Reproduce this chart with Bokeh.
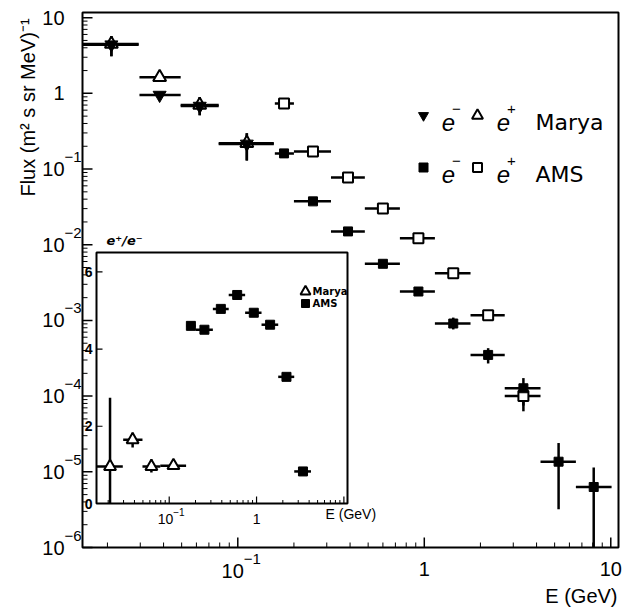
import math
from bokeh.plotting import figure
from bokeh.models import Range1d, LogScale, LinearScale, Label
from bokeh.embed import file_html
from bokeh.resources import INLINE

# ---------------- data ----------------
# Marya (e- filled down-triangle, e+ open up-triangle)
marya_x = [0.021, 0.0381, 0.0625, 0.1118]
marya_xlo = [0.0147, 0.0297, 0.0494, 0.079]
marya_xhi = [0.0294, 0.0494, 0.079, 0.156]
marya_em = [4.4, 0.95, 0.68, 0.215]
marya_em_lo = [3.08, 0.92, 0.512, 0.13]
marya_em_hi = [5.66, 0.98, 0.885, 0.296]
marya_ep = [4.5, 1.63, 0.70, 0.22]
marya_ep_lo = [3.08, 1.58, 0.512, 0.13]
marya_ep_hi = [5.66, 1.68, 0.885, 0.296]

# AMS (e- filled square, e+ open square)
ams_x = [0.177, 0.253, 0.39, 0.6, 0.93, 1.43, 2.2, 3.4, 5.25, 8.1]
ams_xlo = [0.158, 0.2, 0.316, 0.48, 0.74, 1.14, 1.77, 2.7, 4.2, 6.5]
ams_xhi = [0.2, 0.316, 0.48, 0.74, 1.14, 1.77, 2.7, 4.2, 6.5, 10.1]
ams_em = [0.161, 0.0374, 0.0150, 0.0056, 0.00241, 9.1e-4, 3.5e-4, 1.27e-4, 1.36e-5, 6.3e-6]
ams_em_lo = [0.152, 0.0354, 0.0142, 0.0053, 0.00228, 7.6e-4, 2.7e-4, 6.3e-5, 3.2e-6, 1e-7]
ams_em_hi = [0.170, 0.0395, 0.0158, 0.0059, 0.00255, 1.09e-3, 4.3e-4, 1.73e-4, 2.4e-5, 1.14e-5]
ams_ep_x = [0.177, 0.253, 0.39, 0.6, 0.93, 1.43, 2.2, 3.4]
ams_ep_xlo = [0.158, 0.2, 0.316, 0.48, 0.74, 1.14, 1.77, 2.7]
ams_ep_xhi = [0.2, 0.316, 0.48, 0.74, 1.14, 1.77, 2.7, 4.2]
ams_ep = [0.737, 0.171, 0.0775, 0.0302, 0.0122, 0.00419, 0.00117, 1.0e-4]
ams_ep_lo = [0.70, 0.162, 0.0735, 0.0287, 0.0116, 0.00398, 0.00111, 7.5e-5]
ams_ep_hi = [0.775, 0.180, 0.0815, 0.0317, 0.0128, 0.0044, 0.00123, 1.3e-4]

# inset: e+/e- ratio
marya_ratio = [0.96, 1.65, 0.96, 0.98]
marya_ratio_lo = [0.0, 1.45, 0.80, 0.92]
marya_ratio_hi = [2.74, 1.83, 1.14, 1.04]
ams_ratio = [4.6, 4.5, 5.04, 5.4, 4.94, 4.63, 3.28, 0.83]
ams_ratio_lo = [4.52, 4.42, 4.96, 5.32, 4.86, 4.55, 3.18, 0.75]
ams_ratio_hi = [4.68, 4.58, 5.12, 5.48, 5.02, 4.71, 3.38, 0.91]

# tick labels
y_ticks = [10, 1, 0.1, 0.01, 1e-3, 1e-4, 1e-5, 1e-6]
y_tick_base = ["10", "1", "10", "10", "10", "10", "10", "10"]
y_tick_exp = ["", "", "\u22121", "\u22122", "\u22123", "\u22124", "\u22125", "\u22126"]
x_ticks = [0.1, 1, 10]
x_tick_base = ["10", "1", "10"]
x_tick_exp = ["\u22121", "", ""]
inset_y_ticks = [0, 2, 4, 6]
inset_y_labels = ["0", "2", "4", "6"]
inset_x_ticks = [0.1, 1]
inset_x_base = ["10", "1"]
inset_x_exp = ["\u22121", ""]

# ---------------- layout ----------------
W, H = 640, 608
FL, FR, FT, FB = 82, 618, 12, 547      # main frame (px)
IL, IR, IT, IB = 96, 347, 252, 503     # inset frame (px)
X0, X1 = 0.0147, 11.0                  # main axis limits
Y0, Y1 = 1e-6, 11.7
IY0, IY1 = 0.0, 6.5                    # inset y limits (x limits same as main)
FONT = "Liberation Sans"

lx0, lx1 = math.log10(X0), math.log10(X1)
ly0, ly1 = math.log10(Y0), math.log10(Y1)
xdpp = (lx1 - lx0) / (FR - FL)         # decades per px, main
ydpp = (ly1 - ly0) / (FB - FT)
idpp = (lx1 - lx0) / (IR - IL)         # decades per px, inset x
iupp = (IY1 - IY0) / (IB - IT)         # units per px, inset y


def mx(px):
    return 10 ** (lx0 + (px - FL) * xdpp)


def my(py):
    return 10 ** (ly1 - (py - FT) * ydpp)


def ixp(px):
    return 10 ** (lx0 + (px - IL) * idpp)


def iyp(py):
    return IY0 + (IB - py) * iupp


# the figure's frame covers the whole canvas; the drawn axes box sits inside it
p = figure(width=W, height=H, x_axis_type="log", y_axis_type="log",
           x_range=Range1d(mx(0), mx(W)), y_range=Range1d(my(H), my(0)),
           min_border=0, output_backend="svg", toolbar_location=None)
p.axis.visible = False
p.xgrid.visible = False
p.ygrid.visible = False
p.outline_line_color = None
p.background_fill_color = "white"
p.border_fill_color = "white"

p.extra_x_ranges = {"ix": Range1d(ixp(0), ixp(W))}
p.extra_x_scales = {"ix": LogScale()}
p.extra_y_ranges = {"iy": Range1d(iyp(H), iyp(0))}
p.extra_y_scales = {"iy": LinearScale()}

INS = dict(x_range_name="ix", y_range_name="iy")
LW = 2.5
K = "black"


def lab(text, x, y, xo=0, yo=0, size=20, align="left", baseline="middle",
        font=FONT, style="normal", angle=0, xr="default", yr="default"):
    p.add_layout(Label(x=x, y=y, x_offset=xo, y_offset=yo, text=text, text_font=font,
                       text_font_size=f"{size}px", text_align=align,
                       text_baseline=baseline, text_font_style=style, angle=angle,
                       x_range_name=xr, y_range_name=yr, text_color=K))


# ---- main axes box and ticks ----
ymaj = [10.0 ** d for d in range(-6, 2)]
ymin_t = [k * 10.0 ** d for d in range(-6, 1) for k in range(2, 10)]
xmaj = [t for t in (10.0 ** d for d in range(-2, 2)) if X0 <= t <= X1]
xmin_t = [t for t in (k * 10.0 ** d for d in range(-2, 2) for k in range(2, 10)) if X0 <= t <= X1]

p.ray(x=xmaj, y=[Y0] * len(xmaj), length=10, angle=math.pi / 2, length_units="screen",
      line_color=K, line_width=1.5)
p.ray(x=xmin_t, y=[Y0] * len(xmin_t), length=5, angle=math.pi / 2, length_units="screen",
      line_color=K, line_width=1)
p.ray(x=[X0] * len(ymaj), y=ymaj, length=10, angle=0, length_units="screen",
      line_color=K, line_width=1.5)
p.ray(x=[X0] * len(ymin_t), y=ymin_t, length=5, angle=0, length_units="screen",
      line_color=K, line_width=1)

# ---- main: Marya ----
p.segment(marya_xlo, marya_em, marya_xhi, marya_em, line_color=K, line_width=LW)
p.segment(marya_xlo, marya_ep, marya_xhi, marya_ep, line_color=K, line_width=LW)
p.segment(marya_x, marya_em_lo, marya_x, marya_em_hi, line_color=K, line_width=LW)
p.segment(marya_x, marya_ep_lo, marya_x, marya_ep_hi, line_color=K, line_width=LW)
p.scatter(marya_x, marya_ep, marker="triangle", size=13, fill_color="white",
          line_color=K, line_width=2)
p.scatter(marya_x, marya_em, marker="inverted_triangle", size=13, fill_color=K,
          line_color=K)

# ---- main: AMS ----
ams_em_lo_draw = [max(v, Y0) for v in ams_em_lo]   # clip at the axis
p.segment(ams_ep_xlo, ams_ep, ams_ep_xhi, ams_ep, line_color=K, line_width=LW)
p.segment(ams_ep_x, ams_ep_lo, ams_ep_x, ams_ep_hi, line_color=K, line_width=LW)
p.segment(ams_xlo, ams_em, ams_xhi, ams_em, line_color=K, line_width=LW)
p.segment(ams_x, ams_em_lo_draw, ams_x, ams_em_hi, line_color=K, line_width=LW)
p.scatter(ams_ep_x, ams_ep, marker="square", size=10, fill_color="white",
          line_color=K, line_width=2)
p.scatter(ams_x, ams_em, marker="square", size=9, fill_color=K, line_color=K)

p.quad(left=[X0], right=[X1], bottom=[Y0], top=[Y1], fill_color=None,
       line_color=K, line_width=2)

# main tick labels
for t, b, e in zip(y_ticks, y_tick_base, y_tick_exp):
    lab(b, mx(FL - 18), t, size=20, align="right")
    if e:
        lab(e, mx(FL - 18), t, yo=12, size=15, align="left")
for t, b, e in zip(x_ticks, x_tick_base, x_tick_exp):
    if e:
        lab(b, t, my(FB + 23), xo=6, size=20, align="right")
        lab(e, t, my(FB + 11), xo=6, size=15, align="left")
    else:
        lab(b, t, my(FB + 21), size=20, align="center")

# axis titles
lab("Flux (m\u00b2 s sr MeV)\u207b\u00b9", mx(27), my(107), size=20, align="center",
    angle=math.pi / 2)
lab("E (GeV)", mx(617), my(595), size=20, align="right")

# main legend
p.scatter([mx(423)], [my(115)], marker="inverted_triangle", size=10, color=K)
p.scatter([mx(477)], [my(115)], marker="triangle", size=11, fill_color="white",
          line_color=K, line_width=2)
p.scatter([mx(423)], [my(167)], marker="square", size=9, color=K)
p.scatter([mx(477)], [my(167)], marker="square", size=9, fill_color="white",
          line_color=K, line_width=2)
for row_y in (122, 174):
    lab("e", mx(448), my(row_y), size=24, align="center", baseline="alphabetic",
        style="italic")
    lab("\u2212", mx(456), my(row_y - 14), size=15, align="center")
    lab("e", mx(503), my(row_y), size=24, align="center", baseline="alphabetic",
        style="italic")
    lab("+", mx(511), my(row_y - 14), size=15, align="center")
lab("Marya", mx(535), my(122), size=22, baseline="alphabetic", font="DejaVu Sans")
lab("AMS", mx(535), my(174), size=22, baseline="alphabetic", font="DejaVu Sans")

# ---------------- inset ----------------
p.quad(left=[X0], right=[X1], bottom=[IY0], top=[IY1], fill_color="white",
       line_color=K, line_width=2, **INS)

p.ray(x=xmaj, y=[IY0] * len(xmaj), length=7, angle=math.pi / 2, length_units="screen",
      line_color=K, line_width=1.2, **INS)
p.ray(x=xmin_t, y=[IY0] * len(xmin_t), length=3.5, angle=math.pi / 2,
      length_units="screen", line_color=K, line_width=1, **INS)
p.ray(x=[X0] * len(inset_y_ticks), y=inset_y_ticks, length=6, angle=0,
      length_units="screen", line_color=K, line_width=1.2, **INS)

p.segment(marya_xlo, marya_ratio, marya_xhi, marya_ratio, line_color=K, line_width=LW, **INS)
p.segment(marya_x, marya_ratio_lo, marya_x, marya_ratio_hi, line_color=K, line_width=LW, **INS)
p.scatter(marya_x, marya_ratio, marker="triangle", size=12, fill_color="white",
          line_color=K, line_width=2, **INS)
p.segment(ams_ep_xlo, ams_ratio, ams_ep_xhi, ams_ratio, line_color=K, line_width=LW, **INS)
p.segment(ams_ep_x, ams_ratio_lo, ams_ep_x, ams_ratio_hi, line_color=K, line_width=LW, **INS)
p.scatter(ams_ep_x, ams_ratio, marker="square", size=9, fill_color=K, line_color=K, **INS)

for t, s in zip(inset_y_ticks, inset_y_labels):
    lab(s, X0, t, xo=-4, size=14, align="right", style="bold", xr="ix", yr="iy")
for t, b, e in zip(inset_x_ticks, inset_x_base, inset_x_exp):
    if e:
        lab(b, t, IY0, xo=4, yo=-15, size=14, align="right", xr="ix", yr="iy")
        lab(e, t, IY0, xo=4, yo=-8, size=10, align="left", xr="ix", yr="iy")
    else:
        lab(b, t, IY0, xo=0, yo=-15, size=14, align="center", xr="ix", yr="iy")
lab("E (GeV)", ixp(325), iyp(513), size=14, xr="ix", yr="iy")
lab("e\u207a/e\u207b", ixp(106), iyp(240), size=13, style="bold italic",
    font="DejaVu Sans", xr="ix", yr="iy")

# inset legend
p.scatter([ixp(305)], [iyp(291)], marker="triangle", size=10, fill_color="white",
          line_color=K, line_width=2, **INS)
p.scatter([ixp(305)], [iyp(303)], marker="square", size=8, color=K, **INS)
lab("Marya", ixp(312), iyp(291), size=10, style="bold", font="DejaVu Sans",
    xr="ix", yr="iy")
lab("AMS", ixp(312), iyp(303), size=10, style="bold", font="DejaVu Sans",
    xr="ix", yr="iy")

open("out.html", "w").write(file_html(p, INLINE))
